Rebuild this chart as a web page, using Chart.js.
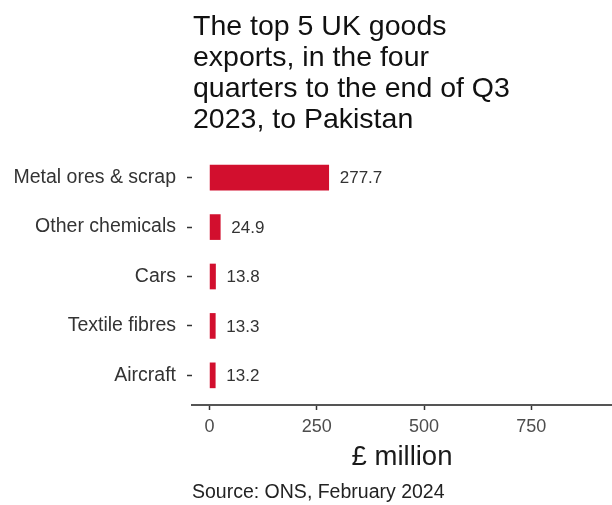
<!DOCTYPE html>
<html>
<head>
<meta charset="utf-8">
<script src="https://cdn.jsdelivr.net/npm/chart.js@4"></script>
<style>
  html, body { margin: 0; padding: 0; background: #ffffff; }
  #wrap { width: 612px; height: 505px; position: relative; }
</style>
</head>
<body>
<div id="wrap"><canvas id="c" width="612" height="505"></canvas></div>
<script>
const titleLines = ["The top 5 UK goods", "exports, in the four", "quarters to the end of Q3", "2023, to Pakistan"];
const categories = ["Metal ores & scrap", "Other chemicals", "Cars", "Textile fibres", "Aircraft"];
const values = [277.7, 24.9, 13.8, 13.3, 13.2];
const xTicks = [0, 250, 500, 750];
const xAxisTitle = "£ million";
const sourceText = "Source: ONS, February 2024";

const FONT = "'Liberation Sans', Arial, sans-serif";
const BAR = "#D20F2E";

const points = values.map((v, i) => ({ x: v, y: i }));

const textPlugin = {
  id: 'textPlugin',
  afterDatasetsDraw(chart) {
    const ctx = chart.ctx;
    ctx.save();
    const meta = chart.getDatasetMeta(0);
    ctx.font = "17px " + FONT;
    ctx.fillStyle = "#333333";
    ctx.textAlign = "left";
    ctx.textBaseline = "middle";
    meta.data.forEach((bar, i) => {
      ctx.fillText(values[i].toFixed(1), bar.x + 11, bar.y + 1);
    });
    ctx.restore();
  },
  afterDraw(chart) {
    const ctx = chart.ctx;
    ctx.save();
    ctx.fillStyle = "#111111";
    ctx.font = "28.5px " + FONT;
    ctx.textAlign = "left";
    ctx.textBaseline = "alphabetic";
    titleLines.forEach((t, i) => ctx.fillText(t, 193, 34.5 + i * 31.3));
    ctx.fillStyle = "#222222";
    ctx.font = "19.5px " + FONT;
    ctx.textBaseline = "middle";
    ctx.fillText(sourceText, 192, 493);
    ctx.restore();
  }
};

new Chart(document.getElementById('c'), {
  type: 'bar',
  data: {
    datasets: [{
      data: points,
      backgroundColor: BAR,
      borderWidth: 0,
      barThickness: 25
    }]
  },
  options: {
    indexAxis: 'y',
    responsive: false,
    animation: false,
    events: [],
    layout: { padding: { top: 148, left: 0, right: 0, bottom: 0 } },
    plugins: {
      legend: { display: false },
      title: { display: false },
      tooltip: { enabled: false }
    },
    scales: {
      x: {
        type: 'linear',
        position: 'bottom',
        min: -41,
        max: 938,
        offset: false,
        afterBuildTicks(scale) { scale.ticks = xTicks.map(v => ({ value: v })); },
        afterFit(scale) { scale.height = 100; },
        grid: {
          display: true,
          offset: false,
          drawOnChartArea: false,
          drawTicks: true,
          tickLength: 5,
          tickColor: '#333333',
          tickWidth: 1.5
        },
        border: { display: true, color: '#555555', width: 2 },
        ticks: {
          color: '#4d4d4d',
          font: { family: FONT, size: 18 },
          padding: 6,
          maxRotation: 0,
          callback: (v) => String(v)
        },
        title: {
          display: true,
          text: xAxisTitle,
          color: '#1a1a1a',
          font: { family: FONT, size: 27.5 },
          padding: { top: 0, bottom: 31.5 }
        }
      },
      y: {
        type: 'linear',
        reverse: true,
        min: -0.6,
        max: 4.6,
        offset: false,
        afterBuildTicks(scale) { scale.ticks = categories.map((c, i) => ({ value: i })); },
        afterFit(scale) { scale.width = 192; },
        grid: {
          display: true,
          offset: false,
          drawOnChartArea: false,
          drawTicks: true,
          tickLength: 5,
          tickColor: '#333333',
          tickWidth: 1.5
        },
        border: { display: false },
        ticks: {
          color: '#333333',
          font: { family: FONT, size: 19.5 },
          padding: 11,
          autoSkip: false,
          callback: (v) => categories[v] !== undefined ? categories[v] : ''
        }
      }
    }
  },
  plugins: [textPlugin]
});
</script>
</body>
</html>
